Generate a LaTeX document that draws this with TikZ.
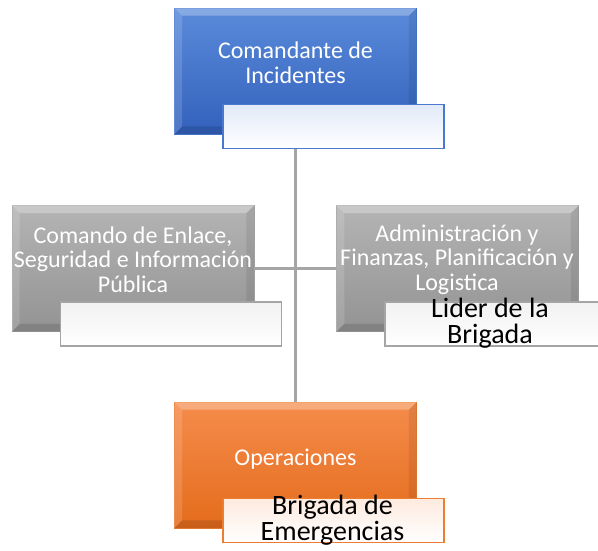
\documentclass[tikz,border=0pt]{standalone}
\usepackage{fontspec}
\setmainfont{Carlito}
\usepackage{tikz}
\usetikzlibrary{calc, positioning}

\definecolor{blueTop}{HTML}{5A8BDA}
\definecolor{blueBot}{HTML}{3361BC}
\definecolor{blueLine}{HTML}{4A78CF}
\definecolor{grayTop}{HTML}{B4B4B4}
\definecolor{grayBot}{HTML}{939393}
\definecolor{grayLine}{HTML}{A5A5A5}
\definecolor{orangeTop}{HTML}{F58C4C}
\definecolor{orangeBot}{HTML}{E46C1C}
\definecolor{orangeLine}{HTML}{ED7D31}
\definecolor{wire}{HTML}{A5A5A5}

\tikzset{
	x = 1pt,
	y = -1pt,
	mainbox/.style={
		rectangle,
		minimum width=242pt,
		minimum height=126pt,
		inner sep=0pt,
		line width=.6pt,
		draw=#1Line,
		top color=#1Top,
		bottom color=#1Bot
	},
	subbox/.style={
		rectangle,
		minimum width=221pt,
		minimum height=44pt,
		inner sep=0pt,
		line width=1.5pt,
		draw=#1Line,
		top color=#1Top!18!white,
		bottom color=white
	},
	boxtext/.style={
		text=white,
		font=\fontsize{24}{24.5}\selectfont,
		align=center,
		anchor=base,
		inner sep=0pt
	},
	subtext/.style={
		text=black,
		font=\fontsize{28}{26}\selectfont,
		align=center,
		anchor=base,
		inner sep=0pt
	},
	wire/.style={
		draw=wire,
		line width=3pt
	}
}

\begin{document}
\begin{tikzpicture}
\useasboundingbox (0,0) rectangle (598,550);

\node[mainbox=blue] (cmd) at (295.5,71) {};
\node[mainbox=gray] (enlace) at (133,268.5) {};
\node[mainbox=gray, right=82pt of enlace] (admin) {};
\node[mainbox=orange] (ops) at (295.5,465) {};

% ---
% Bevels
% ---
\foreach \b in {cmd, enlace, admin, ops} {
	\fill[white, opacity=.28] (\b.north west) -- (\b.north east) -- ([shift={(-8,8)}]\b.north east) -- ([shift={(8,8)}]\b.north west) -- cycle;
	\fill[white, opacity=.14] (\b.north west) -- ([shift={(8,8)}]\b.north west) -- ([shift={(8,-8)}]\b.south west) -- (\b.south west) -- cycle;
	\fill[black, opacity=.08] (\b.north east) -- ([shift={(-8,8)}]\b.north east) -- ([shift={(-8,-8)}]\b.south east) -- (\b.south east) -- cycle;
	\fill[black, opacity=.12] (\b.south west) -- ([shift={(8,-8)}]\b.south west) -- ([shift={(-8,-8)}]\b.south east) -- (\b.south east) -- cycle;
}

% ---
% Connectors
% ---
\draw[wire] (cmd.south) -- (ops.north);
\draw[wire] (enlace.east) -- (admin.west);

\node[subbox=blue, anchor=south west] (cmd-sub) at ([shift={(48,15)}]cmd.south west) {};
\node[subbox=gray, anchor=south west] (enlace-sub) at ([shift={(48,15)}]enlace.south west) {};
\node[subbox=gray, anchor=south west] (admin-sub) at ([shift={(48,15)}]admin.south west) {};
\node[subbox=orange, anchor=south west] (ops-sub) at ([shift={(48,15)}]ops.south west) {};

% ---
% Labels (base = last line)
% ---
\node[boxtext] (cmd-text) at (295.5,83) {Comandante de\\Incidentes};
\node[boxtext] (enlace-text) at (133,292) {Comando de Enlace,\\Seguridad e Información\\Pública};
\node[boxtext] (admin-text) at (457,290) {Administración y\\Finanzas, Planificación y\\Logistica};
\node[boxtext] (ops-text) at (295.5,465) {Operaciones};
\node[subtext] (admin-sub-text) at (490,343) {Lider de la\\Brigada};
\node[subtext] (ops-sub-text) at (332.5,540) {Brigada de\\Emergencias};
\end{tikzpicture}
\end{document}
